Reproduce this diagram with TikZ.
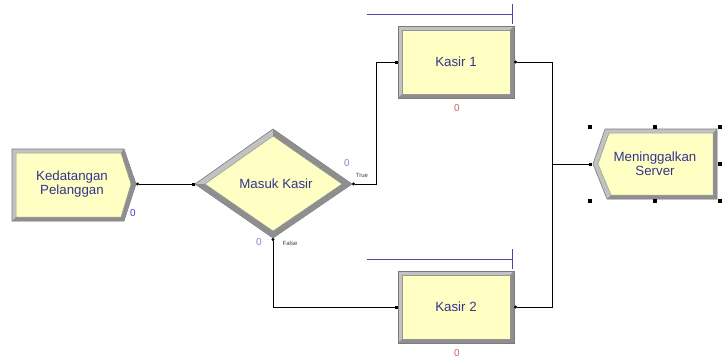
\documentclass[tikz,border=0pt]{standalone}
\usepackage{fontspec}
\setmainfont{Liberation Sans}
\usetikzlibrary{arrows.meta}

\definecolor{modfill}{HTML}{FFFFC4}
\definecolor{modlight}{HTML}{C2C2C2}
\definecolor{moddark}{HTML}{8E8E8E}
\definecolor{modedge}{HTML}{7A7A7A}
\definecolor{modtext}{HTML}{34348C}
\definecolor{queueblue}{HTML}{4848A8}
\definecolor{countblue}{HTML}{3A3AD0}
\definecolor{countlilac}{HTML}{8A80D4}
\definecolor{countred}{HTML}{C86060}

\begin{document}
\begin{tikzpicture}[x=1pt,y=-1pt,
    outerframe/.style={fill=modlight, draw=modedge, line width=0.6pt},
    bevel/.style={fill=moddark},
    innerface/.style={fill=modfill, draw=modedge!80, line width=0.5pt},
    modlabel/.style={text=modtext, font=\fontsize{13.3}{14}\selectfont, align=center, inner sep=0pt},
    counter/.style={font=\fontsize{10}{10}\selectfont, inner sep=0pt},
    portlabel/.style={font=\fontsize{6}{6}\selectfont, text=black!75, inner sep=0pt},
    link/.style={draw=black, line width=0.7pt, {Circle[length=3pt]}-{Square[length=3pt,width=3pt]}}]

    \useasboundingbox (0,0) rectangle (724,362);

    % 1. Arrival module (create)
    \draw[outerframe] (12,149) -- (124,149) -- (136,184) -- (124,221) -- (12,221) -- cycle;
    \fill[bevel] (12,221) -- (124,221) -- (136,184) -- (124,149) -- (121,153) -- (131,184) -- (121,217) -- (16,217) -- cycle;
    \draw[innerface] (16,153) -- (121,153) -- (131,184) -- (121,217) -- (16,217) -- cycle;
    \node[modlabel] (arrive) at (72,184) {Kedatangan\\Pelanggan};
    \node[counter, text=countblue] (arrive-count) at (133,213) {0};
    \coordinate (arrive-out) at (136,184);

    % 2. Decision diamond
    \draw[outerframe] (195,184) -- (273,129) -- (352,184) -- (273,238) -- cycle;
    \fill[bevel] (273,129) -- (352,184) -- (273,238) -- (195,184) -- (205,184) -- (273,231) -- (342,184) -- (273,136) -- cycle;
    \draw[innerface] (205,184) -- (273,136) -- (342,184) -- (273,231) -- cycle;
    \node[modlabel] (decide) at (276,184) {Masuk Kasir};
    \node[counter, text=countlilac] (decide-count-t) at (347,163) {0};
    \node[counter, text=countlilac] (decide-count-f) at (259,242) {0};
    \node[portlabel] (true-tag) at (362,175) {True};
    \node[portlabel] (false-tag) at (290,243) {False};
    \coordinate (decide-in) at (195,184);
    \coordinate (decide-true) at (352,184);
    \coordinate (decide-false) at (273,238);

    % 3. The two cashier processes with their queues
    \foreach \nm/\cy/\txt in {kasirA/62/Kasir 1, kasirB/307/Kasir 2} {
        \draw[outerframe] (398,\cy-36) rectangle (514,\cy+36);
        \fill[bevel] (398,\cy+36) -- (514,\cy+36) -- (514,\cy-36) -- (510,\cy-32) -- (510,\cy+32) -- (402,\cy+32) -- cycle;
        \draw[innerface] (402,\cy-32) rectangle (510,\cy+32);
        \node[modlabel] (\nm) at (456,\cy) {\txt};
        \node[counter, text=countred] (\nm-count) at (457,\cy+46) {0};
        \coordinate (\nm-in) at (398,\cy);
        \coordinate (\nm-out) at (514,\cy);
        \draw[queueblue, line width=1pt] (367,\cy-48) -- (512,\cy-48);
        \draw[queueblue, line width=1pt] (512,\cy-58) -- (512,\cy-38);
    }

    % 4. Leaving module (dispose) and its selection handles
    \draw[outerframe] (605,129) -- (717,129) -- (717,199) -- (607,199) -- (593,164) -- cycle;
    \fill[bevel] (607,199) -- (717,199) -- (717,129) -- (713,133) -- (713,195) -- (611,195) -- cycle;
    \draw[innerface] (609,133) -- (713,133) -- (713,195) -- (611,195) -- (598,164) -- cycle;
    \node[modlabel] (leave) at (655,164) {Meninggalkan\\Server};
    \coordinate (leave-in) at (592,164);
    \coordinate (join) at (552,164);

    \foreach \p in {(590,127), (655,127), (720,127), (720,164), (590,201), (655,201), (720,201)} {
        \fill[black] \p ++(-2,-2) rectangle ++(4,4);
    }

    % 5. Connectors
    \draw[link] (arrive-out) -- (decide-in);
    \draw[link] (decide-true) -- ++(24,0) |- (kasirA-in);
    \draw[link] (decide-false) |- (kasirB-in);
    \draw[link] (kasirA-out) -| (join) -- (leave-in);
    \draw[link] (kasirB-out) -| (join) -- (leave-in);

\end{tikzpicture}
\end{document}
